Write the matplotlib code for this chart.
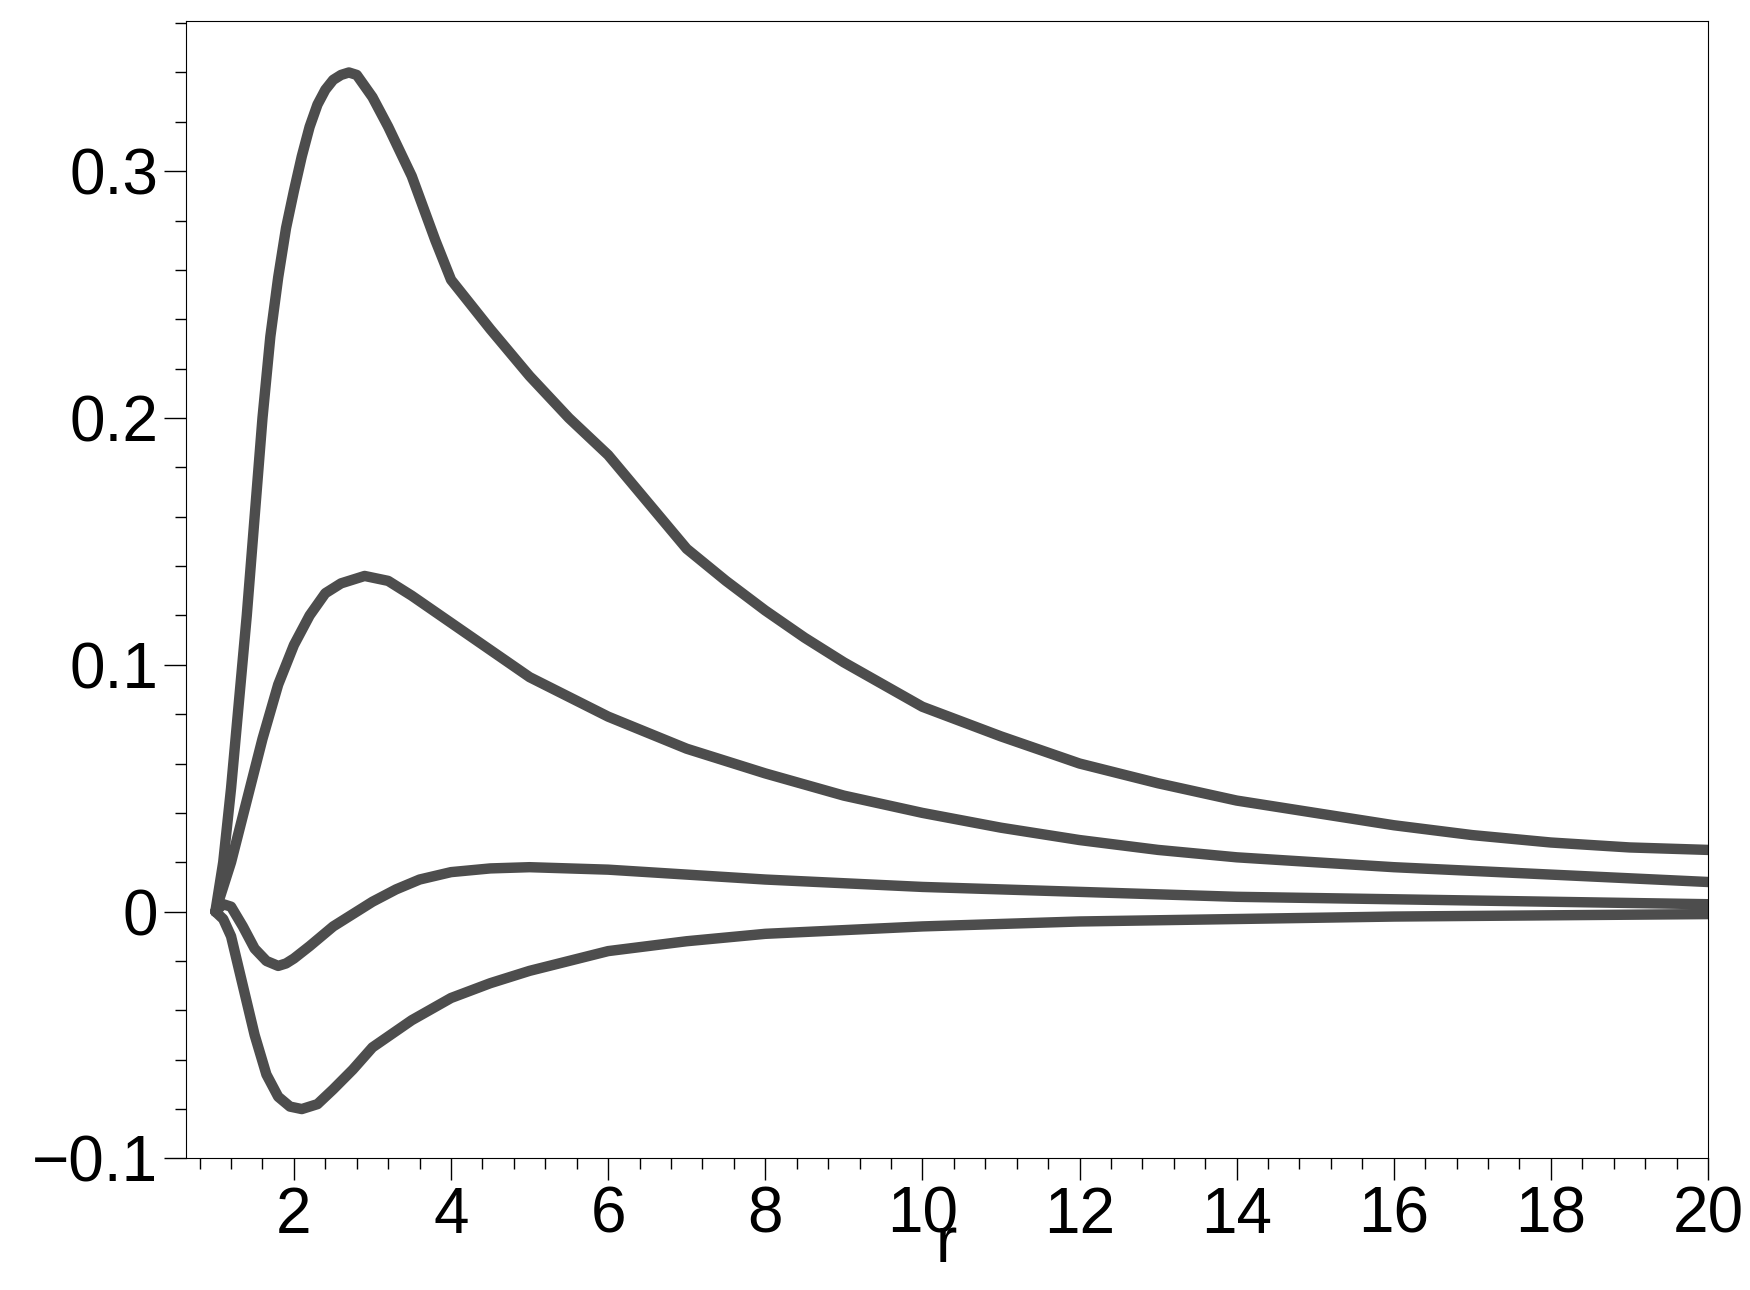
import numpy as np
import matplotlib
matplotlib.use('Agg')
import matplotlib.pyplot as plt
from matplotlib.ticker import MultipleLocator

plt.rcParams['font.family'] = ['Liberation Sans', 'DejaVu Sans']

r_a = [1, 1.1, 1.2, 1.3, 1.4, 1.5, 1.6, 1.7, 1.8, 1.9, 2.0, 2.1, 2.2, 2.3, 2.4, 2.5, 2.6, 2.7, 2.8, 3.0, 3.2, 3.5, 3.8,
       4, 4.5, 5, 5.5, 6, 6.5, 7, 7.5, 8, 8.5, 9, 9.5, 10, 11, 12, 13, 14, 15, 16, 17, 18, 19, 20]
y_a = [0, 0.02, 0.05, 0.085, 0.12, 0.16, 0.2, 0.233, 0.257, 0.277, 0.292, 0.306, 0.318, 0.327, 0.333, 0.337, 0.339, 0.34, 0.339,
       0.33, 0.318, 0.298, 0.272, 0.256, 0.236, 0.217, 0.2, 0.185, 0.166, 0.147, 0.134, 0.122, 0.111, 0.101, 0.092, 0.083,
       0.071, 0.060, 0.052, 0.045, 0.040, 0.035, 0.031, 0.028, 0.026, 0.025]
r_b = [1, 1.2, 1.4, 1.6, 1.8, 2.0, 2.2, 2.4, 2.6, 2.9, 3.2, 3.5, 4, 4.5, 5, 5.5, 6, 7, 8, 9, 10, 11, 12, 13, 14, 16, 18, 20]
y_b = [0, 0.02, 0.045, 0.07, 0.092, 0.108, 0.12, 0.129, 0.133, 0.136, 0.134, 0.128, 0.117, 0.106, 0.095, 0.087, 0.079, 0.066,
       0.056, 0.047, 0.040, 0.034, 0.029, 0.025, 0.022, 0.018, 0.015, 0.012]
r_c = [1, 1.1, 1.2, 1.35, 1.5, 1.65, 1.8, 1.9, 2.0, 2.2, 2.5, 2.8, 3, 3.3, 3.6, 4, 4.5, 5, 6, 7, 8, 10, 12, 14, 16, 18, 20]
y_c = [0, 0.003, 0.002, -0.006, -0.015, -0.02, -0.022, -0.021, -0.019, -0.014, -0.006, 0.0, 0.004, 0.009, 0.013, 0.016, 0.0175,
       0.018, 0.017, 0.015, 0.013, 0.010, 0.008, 0.006, 0.005, 0.004, 0.003]
r_d = [1, 1.1, 1.2, 1.35, 1.5, 1.65, 1.8, 1.95, 2.1, 2.3, 2.5, 2.75, 3, 3.5, 4, 4.5, 5, 6, 7, 8, 10, 12, 14, 16, 20]
y_d = [0, -0.003, -0.01, -0.03, -0.05, -0.066, -0.075, -0.079, -0.08, -0.078, -0.072, -0.064, -0.055, -0.044, -0.035, -0.029,
       -0.024, -0.016, -0.012, -0.009, -0.006, -0.004, -0.003, -0.002, -0.001]

fig = plt.figure(figsize=(17.5, 12.9), dpi=100)
ax = fig.add_axes([0.106, 0.102, 0.870, 0.882])
for r, y in [(r_a, y_a), (r_b, y_b), (r_c, y_c), (r_d, y_d)]:
    ax.plot(r, y, color='#4d4d4d', lw=7.5, solid_capstyle='round', solid_joinstyle='round')

ax.set_xlim(0.62, 20)
ax.set_ylim(-0.1, 0.361)
ax.xaxis.set_minor_locator(MultipleLocator(0.4))
ax.yaxis.set_minor_locator(MultipleLocator(0.02))
ax.set_yticks([-0.1, 0, 0.1, 0.2, 0.3])
ax.set_yticklabels(['\u22120.1', '0', '0.1', '0.2', '0.3'])
ax.set_xticks(range(2, 21, 2))
ax.tick_params(which='major', length=16, width=1, labelsize=46, direction='out')
ax.tick_params(which='minor', length=8, width=1, direction='out')
ax.set_xlabel('r', fontsize=46, labelpad=-22)
fig.savefig('out.png', dpi=100)
